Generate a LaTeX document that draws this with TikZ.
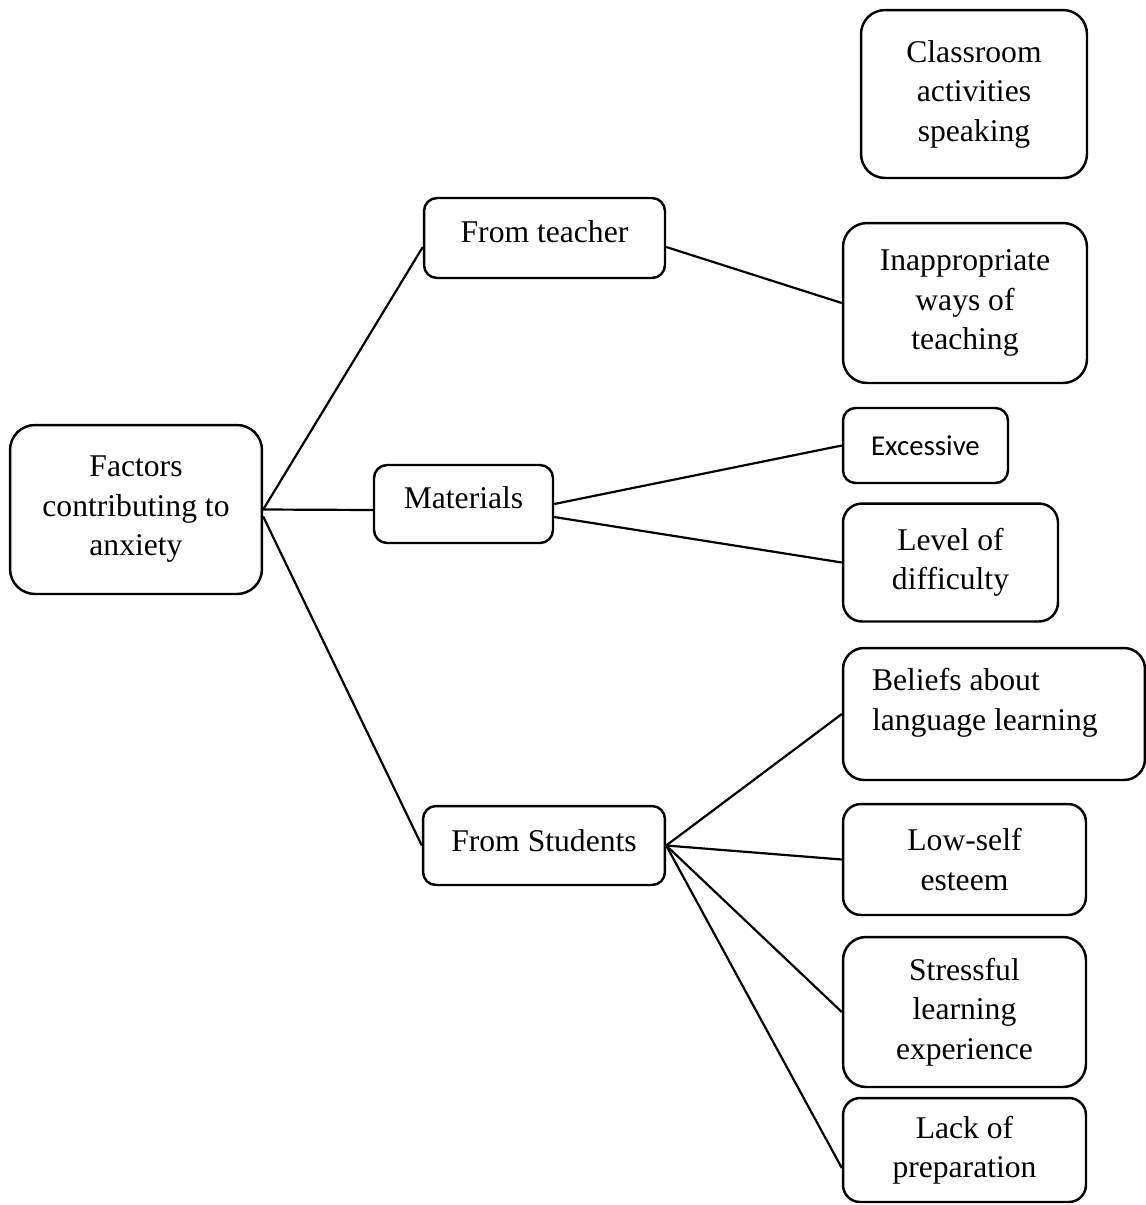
\documentclass[tikz,border=0pt]{standalone}
\usepackage{fontspec}
\setmainfont{Liberation Serif}
\newfontfamily\calibrifont{Carlito}
\usepackage{tikz}
\tikzset{
boxnode/.style={
  draw=black,
  line width=1.4pt,
  rounded corners=#1,
  align=center,
  inner sep=0pt,
  font=\fontsize{18pt}{22.5pt}\selectfont
  },
boxnode/.default=0.4cm,
connline/.style={
  line width=1.25pt
  }
}
\newcommand{\liftstrut}[1]{\rule[-#1]{0pt}{#1}}

\begin{document}
\begin{tikzpicture}[x=0.02cm,y=-0.02cm]
\useasboundingbox (0,0) rectangle (1146,1205);

\node[boxnode=0.5cm,minimum width=5.04cm,minimum height=3.38cm]
  (factors) at (136,509.5) {Factors\\contributing to\\anxiety};

\node[boxnode=0.26cm,minimum width=4.82cm,minimum height=1.6cm]
  (teacher) at (544.5,238) {From teacher\liftstrut{0.24cm}};
\node[boxnode=0.26cm,minimum width=3.58cm,minimum height=1.56cm]
  (materials) at (463.5,504) {Materials\liftstrut{0.24cm}};
\node[boxnode=0.26cm,minimum width=4.84cm,minimum height=1.58cm]
  (students) at (544,845.5) {From Students\liftstrut{0.2cm}};

\node[boxnode=0.48cm,minimum width=4.52cm,minimum height=3.36cm]
  (classroom) at (974,94) {Classroom\\activities\\speaking};
\node[boxnode=0.48cm,minimum width=4.88cm,minimum height=3.2cm]
  (inapp) at (965,303) {Inappropriate\\ways of\\teaching};
\node[boxnode=0.25cm,minimum width=3.3cm,minimum height=1.5cm,
  font=\calibrifont\fontsize{16.4pt}{20pt}\selectfont]
  (excessive) at (925.5,445.5) {Excessive};
\node[boxnode=0.38cm,minimum width=4.3cm,minimum height=2.36cm]
  (level) at (950.5,562.5) {Level of\\difficulty};
\node[boxnode=0.42cm,minimum width=6.04cm,minimum height=2.64cm,
  align=flush left,text width=4.88cm]
  (beliefs) at (994,714) {Beliefs about\\language learning\liftstrut{0.58cm}};
\node[boxnode=0.36cm,minimum width=4.86cm,minimum height=2.22cm]
  (lowself) at (964.5,859.5) {Low-self\\esteem};
\node[boxnode=0.46cm,minimum width=4.86cm,minimum height=3.0cm]
  (stressful) at (964.5,1012) {Stressful\\learning\\experience};
\node[boxnode=0.34cm,minimum width=4.86cm,minimum height=2.08cm]
  (lack) at (964.5,1150) {Lack of\\preparation};

\draw[connline] (factors.east) -- ([yshift=-0.18cm]teacher.west);
\draw[connline] (factors.east) -- ([yshift=-0.12cm]materials.west);
\draw[connline] ([yshift=-0.14cm]factors.east) -- (students.west);

\draw[connline] ([yshift=-0.18cm]teacher.east) -- (inapp.west);

\draw[connline] (materials.east) -- (excessive.west);
\draw[connline] ([yshift=-0.26cm]materials.east) -- (level.west);

\draw[connline] (students.east) -- (beliefs.west);
\draw[connline] (students.east) -- (lowself.west);
\draw[connline] (students.east) -- (stressful.west);
\draw[connline] (students.east) -- ([yshift=-0.36cm]lack.west);

\end{tikzpicture}
\end{document}
